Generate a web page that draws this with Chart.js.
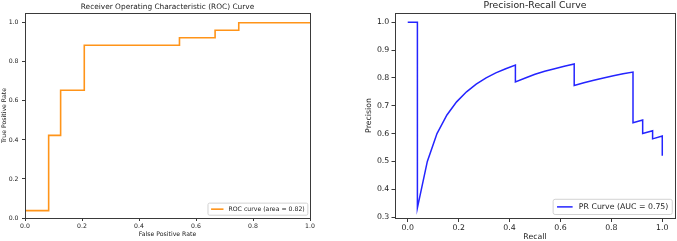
<!DOCTYPE html>
<html>
<head>
<meta charset="utf-8">
<script src="https://cdn.jsdelivr.net/npm/chart.js@4"></script>
<style>
  html, body { margin: 0; padding: 0; background: #fff; }
  body { width: 677px; height: 241px; position: relative; overflow: hidden; }
  #rocChart { position: absolute; left: 0; top: 0; }
  #prChart { position: absolute; left: 340px; top: 0; }
</style>
</head>
<body>
<canvas id="rocChart" width="330" height="241"></canvas>
<canvas id="prChart" width="337" height="241"></canvas>
<script>
// ROC curve (step points)
const rocFpr = [0, 0, 0.083, 0.083, 0.125, 0.125, 0.208, 0.208, 0.542, 0.542, 0.667, 0.667, 0.75, 0.75, 1.0];
const rocTpr = [0, 0.038, 0.038, 0.423, 0.423, 0.654, 0.654, 0.885, 0.885, 0.923, 0.923, 0.962, 0.962, 1.0, 1.0];
const rocLabel = 'ROC curve (area = 0.82)';
const rocXTicks = [0, 0.2, 0.4, 0.6, 0.8, 1.0];
const rocYTicks = [0, 0.2, 0.4, 0.6, 0.8, 1.0];

// Precision-Recall curve
const prRecall = [0, 0.038, 0.038, 0.077, 0.115, 0.154, 0.192, 0.231, 0.269, 0.308, 0.346, 0.385, 0.423,
  0.423, 0.462, 0.5, 0.538, 0.577, 0.615, 0.654,
  0.654, 0.692, 0.731, 0.769, 0.808, 0.846, 0.885,
  0.885, 0.923, 0.923, 0.962, 0.962, 1.0, 1.0];
const prPrecision = [1.0, 1.0, 0.333, 0.5, 0.6, 0.667, 0.714, 0.75, 0.778, 0.8, 0.818, 0.833, 0.846,
  0.786, 0.8, 0.813, 0.824, 0.833, 0.842, 0.85,
  0.773, 0.783, 0.792, 0.8, 0.808, 0.815, 0.821,
  0.639, 0.649, 0.6, 0.61, 0.581, 0.591, 0.52];
const prLabel = 'PR Curve (AUC = 0.75)';
const prXTicks = [0, 0.2, 0.4, 0.6, 0.8, 1.0];
const prYTicks = [0.3, 0.4, 0.5, 0.6, 0.7, 0.8, 0.9, 1.0];

const FONT = '"DejaVu Sans", "Liberation Sans", sans-serif';
const TEXT = '#222';
const AXIS = '#3a3a3a';

// box around the plot area, like matplotlib spines
const framePlugin = {
  id: 'frame',
  afterDatasetsDraw(chart) {
    const { ctx, chartArea } = chart;
    ctx.save();
    ctx.strokeStyle = AXIS;
    ctx.lineWidth = 1;
    ctx.strokeRect(Math.round(chartArea.left) + 0.5, Math.round(chartArea.top) + 0.5,
      Math.round(chartArea.right - chartArea.left), Math.round(chartArea.bottom - chartArea.top));
    ctx.restore();
  }
};

// title centred over the plot area (matplotlib style)
const axesTitle = {
  id: 'axesTitle',
  afterDraw(chart, args, opts) {
    const { ctx, chartArea } = chart;
    ctx.save();
    ctx.font = opts.fontSize + 'px ' + FONT;
    ctx.fillStyle = TEXT;
    ctx.textAlign = 'center';
    ctx.textBaseline = 'middle';
    ctx.fillText(opts.text, (chartArea.left + chartArea.right) / 2, opts.y);
    ctx.restore();
  }
};

// legend in the lower right corner of the plot area
const cornerLegend = {
  id: 'cornerLegend',
  afterDraw(chart, args, opts) {
    const { ctx, chartArea } = chart;
    const ds = chart.data.datasets[0];
    const f = opts.fontSize;
    ctx.save();
    ctx.font = f + 'px ' + FONT;
    const textW = ctx.measureText(ds.label).width;
    const w = f * (0.5 + 2 + 0.8 + 0.5) + textW;
    const h = f * 1.95;
    const x = chartArea.right - f * 0.35 - w;
    const y = chartArea.bottom - f * 0.45 - h;
    ctx.beginPath();
    ctx.roundRect(x, y, w, h, f * 0.25);
    ctx.fillStyle = 'rgba(255,255,255,0.85)';
    ctx.fill();
    ctx.strokeStyle = '#d2d2d2';
    ctx.lineWidth = 1;
    ctx.stroke();
    const cy = y + h / 2;
    ctx.beginPath();
    ctx.moveTo(x + f * 0.5, cy);
    ctx.lineTo(x + f * 2.5, cy);
    ctx.strokeStyle = ds.borderColor;
    ctx.lineWidth = ds.borderWidth;
    ctx.stroke();
    ctx.fillStyle = TEXT;
    ctx.textBaseline = 'middle';
    ctx.fillText(ds.label, x + f * 3.3, cy + 0.5);
    ctx.restore();
  }
};

function axis(o) {
  return {
    type: 'linear',
    min: o.min,
    max: o.max,
    border: { display: false },
    grid: { drawOnChartArea: false, drawTicks: true, tickLength: o.tickLength, color: AXIS },
    ticks: {
      color: TEXT,
      font: { family: FONT, size: o.font },
      padding: o.pad,
      maxRotation: 0,
      autoSkip: false,
      callback: v => Number(v).toFixed(1)
    },
    afterBuildTicks: s => { s.ticks = o.ticks.map(v => ({ value: v })); },
    afterFit: s => { if (o.width) s.width = o.width; if (o.height) s.height = o.height; },
    title: {
      display: true,
      text: o.title,
      color: TEXT,
      font: { family: FONT, size: o.font, lineHeight: 1 },
      padding: o.titlePad
    }
  };
}

new Chart(document.getElementById('rocChart').getContext('2d'), {
  type: 'line',
  data: {
    datasets: [{
      label: rocLabel,
      data: rocFpr.map((v, i) => ({ x: v, y: rocTpr[i] })),
      borderColor: '#ff9419',
      borderWidth: 1.6,
      pointRadius: 0,
      tension: 0,
      fill: false
    }]
  },
  options: {
    responsive: false,
    animation: false,
    layout: { padding: { left: 0, right: 20, top: 13, bottom: 0 } },
    plugins: {
      legend: { display: false },
      tooltip: { enabled: false },
      axesTitle: { text: 'Receiver Operating Characteristic (ROC) Curve', fontSize: 7.4, y: 6.7 },
      cornerLegend: { fontSize: 6.2 }
    },
    scales: {
      x: axis({ min: 0, max: 1, ticks: rocXTicks, font: 6.2, pad: 1.2, tickLength: 3, height: 23,
        title: 'False Positive Rate', titlePad: { top: 0, bottom: 3.6 } }),
      y: axis({ min: 0, max: 1.05, ticks: rocYTicks, font: 6.2, pad: 3.5, tickLength: 3, width: 25,
        title: 'True Positive Rate', titlePad: { top: 1.4, bottom: 0 } })
    }
  },
  plugins: [framePlugin, axesTitle, cornerLegend]
});

new Chart(document.getElementById('prChart').getContext('2d'), {
  type: 'line',
  data: {
    datasets: [{
      label: prLabel,
      data: prRecall.map((v, i) => ({ x: v, y: prPrecision[i] })),
      borderColor: '#2424ff',
      borderWidth: 1.5,
      pointRadius: 0,
      tension: 0,
      fill: false
    }]
  },
  options: {
    responsive: false,
    animation: false,
    layout: { padding: { left: 0, right: 2, top: 13, bottom: 0 } },
    plugins: {
      legend: { display: false },
      tooltip: { enabled: false },
      axesTitle: { text: 'Precision-Recall Curve', fontSize: 9.3, y: 5.2 },
      cornerLegend: { fontSize: 7.8 }
    },
    scales: {
      x: axis({ min: -0.05, max: 1.05, ticks: prXTicks, font: 7.8, pad: 1.5, tickLength: 4, height: 23,
        title: 'Recall', titlePad: { top: 0, bottom: 0.4 } }),
      y: axis({ min: 0.2967, max: 1.0333, ticks: prYTicks, font: 7.8, pad: 2.2, tickLength: 3.5, width: 55,
        title: 'Precision', titlePad: { top: 25, bottom: 0 } })
    }
  },
  plugins: [framePlugin, axesTitle, cornerLegend]
});
</script>
</body>
</html>
